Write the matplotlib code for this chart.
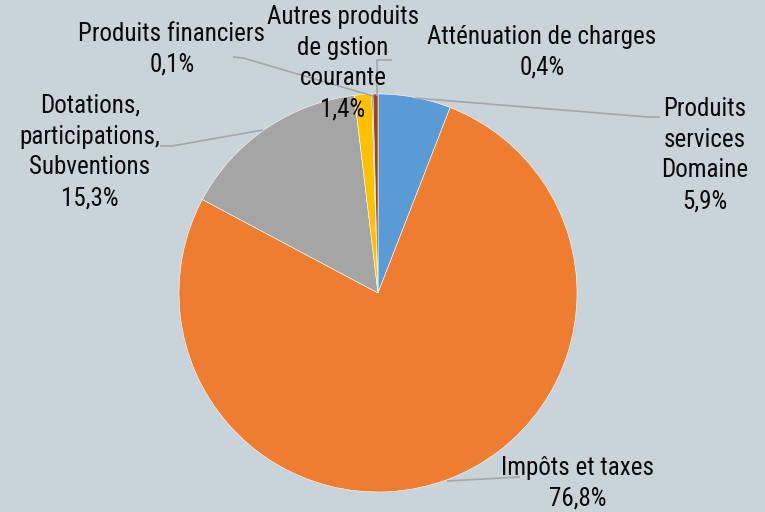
import matplotlib
matplotlib.use("Agg")
import matplotlib.pyplot as plt
from matplotlib import font_manager as fm

# ---- data ----
categories = [
    "Produits\nservices\nDomaine",
    "Impôts et taxes",
    "Dotations,\nparticipations,\nSubventions",
    "Autres produits\nde gstion\ncourante",
    "Produits financiers",
    "Atténuation de charges",
]
values = [5.9, 76.8, 15.3, 1.4, 0.1, 0.4]
colors = ["#5B9BD5", "#ED7D31", "#A5A5A5", "#FFC000", "#4472C4", "#9E480E"]

# ---- layout (pixel coordinates, y from top) ----
W, H = 765, 512
center_px = (378, 293)
radius_px = 199
label_pos = [(705, 155), (578, 483), (90, 152), (343, 63), (172, 49), (542, 52)]
leaders = [
    [(660, 117), (648, 117), (415, 98)],
    [(520, 477), (447, 481)],
    [(160, 146), (172, 146), (263, 130)],
    [(392, 60), (377, 60), (377, 96)],
    [(233, 57), (243, 58), (373, 96)],
]

bg = "#C9D3DA"

# find a narrow sans font if one is installed
narrow = None
pref = ["Liberation Sans Narrow", "Arial Narrow", "Roboto Condensed",
        "Open Sans Condensed", "Noto Sans Condensed", "DejaVu Sans Condensed"]
cands = {}
for f in fm.fontManager.ttflist:
    if f.style != "normal" or f.weight not in (400, "normal", "regular"):
        continue
    key = None
    if "Narrow" in f.name or "Condensed" in f.name:
        key = f.name
    elif isinstance(f.stretch, str) and "condensed" in f.stretch:
        key = f.name + " Condensed"
    elif isinstance(f.stretch, (int, float)) and f.stretch < 500:
        key = f.name + " Condensed"
    if key:
        cands.setdefault(key, f.fname)
for p in pref:
    if p in cands:
        narrow = cands[p]
        break
if narrow is None and cands:
    narrow = sorted(cands.items())[0][1]

if narrow is not None:
    fprop = fm.FontProperties(fname=narrow, size=18)
    lsp = 1.36
else:
    fprop = fm.FontProperties(family=["Liberation Sans", "DejaVu Sans"], size=15.7)
    lsp = 1.5

fig = plt.figure(figsize=(W / 100, H / 100), dpi=100, facecolor=bg)
ax = fig.add_axes([0, 0, 1, 1])
ax.set_facecolor(bg)
ax.axis("off")

def fy(y):
    return H - y

ax.pie(values, colors=colors, startangle=90, counterclock=False,
       center=(center_px[0], fy(center_px[1])), radius=radius_px,
       wedgeprops=dict(edgecolor="white", linewidth=0.4), normalize=True,
       frame=False)
ax.set_xlim(0, W)
ax.set_ylim(0, H)
ax.set_aspect("equal")

for pts in leaders:
    xs = [p[0] for p in pts]
    ys = [fy(p[1]) for p in pts]
    ax.plot(xs, ys, color="#A6A6A6", lw=1.2, solid_capstyle="butt", zorder=1)

for cat, v, (x, y) in zip(categories, values, label_pos):
    pct = f"{v:.1f}".replace(".", ",") + "%"
    ax.text(x, fy(y), f"{cat}\n{pct}", ha="center", va="center",
            fontproperties=fprop, color="#0A0A0A", linespacing=lsp, zorder=5)

fig.savefig("out.png", dpi=100, facecolor=bg)
